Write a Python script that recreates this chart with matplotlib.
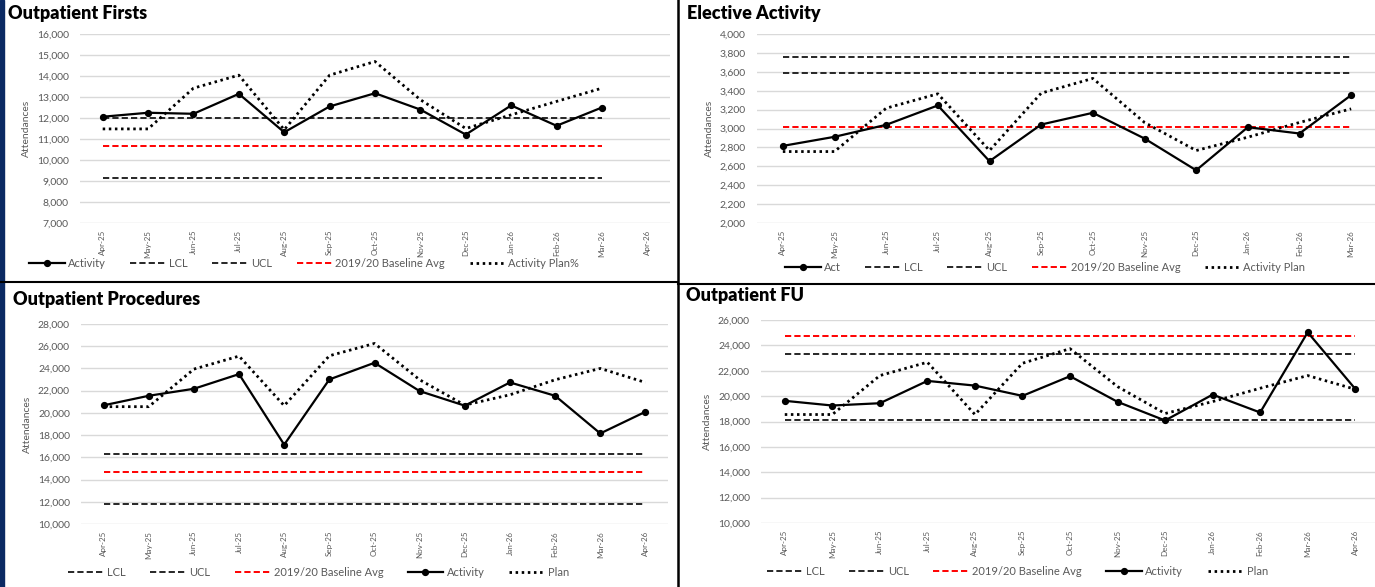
import numpy as np
import matplotlib
matplotlib.use("Agg")
import matplotlib.pyplot as plt
from matplotlib.lines import Line2D
from matplotlib.ticker import FuncFormatter

plt.rcParams['font.family'] = ['Lato', 'DejaVu Sans']

# data ################################
months13 = ["Apr-25", "May-25", "Jun-25", "Jul-25", "Aug-25", "Sep-25", "Oct-25",
            "Nov-25", "Dec-25", "Jan-26", "Feb-26", "Mar-26", "Apr-26"]
months12 = months13[:12]

# Outpatient Firsts (12 months of data, 13 category slots)
opf_activity = [12060, 12250, 12200, 13150, 11320, 12550, 13180, 12400, 11210, 12600, 11630, 12500]
opf_plan = [11480, 11480, 13420, 14040, 11440, 14040, 14690, 12870, 11500, 12150, 12790, 13420]
opf_lcl = 9150
opf_ucl = 11990
opf_base = 10690

# Elective Activity
ele_act = [2816, 2912, 3039, 3244, 2654, 3042, 3166, 2894, 2558, 3014, 2947, 3353]
ele_plan = [2756, 2756, 3215, 3367, 2767, 3374, 3530, 3064, 2767, 2908, 3064, 3208]
ele_lcl = 3583
ele_ucl = 3760
ele_base = 3018

# Outpatient Procedures
opp_activity = [20680, 21540, 22170, 23490, 17140, 23010, 24510, 21960, 20650, 22740, 21540, 18150, 20100]
opp_plan = [20560, 20560, 23940, 25110, 20650, 25140, 26250, 22980, 20700, 21630, 22980, 24000, 22740]
opp_lcl = 16300
opp_ucl = 11830
opp_base = 14650

# Outpatient FU
ofu_activity = [19630, 19260, 19440, 21200, 20830, 20020, 21570, 19550, 18080, 20120, 18710, 25030, 20570]
ofu_plan = [18550, 18550, 21620, 22670, 18550, 22590, 23740, 20750, 18630, 19570, 20620, 21620, 20540]
ofu_lcl = 18080
ofu_ucl = 23350
ofu_base = 24740

# figure ##############################
W, H = 1375, 587
fig = plt.figure(figsize=(W / 100, H / 100), dpi=100, facecolor='w')

GREY = '#595959'
DASH = (0, (3.2, 1.6))


def add_ax(x0, y0, x1, y1):
    return fig.add_axes([x0 / W, 1 - y1 / H, (x1 - x0) / W, (y1 - y0) / H])


def draw_panel(ax, cats, n_data, activity, plan, lcl, ucl, base, ylim, ystep,
               act_label, plan_label, order):
    x = np.arange(n_data)
    h = {}
    h['act'], = ax.plot(x, activity, color='black', lw=1.6, marker='o', ms=4.2,
                        label=act_label, zorder=5)
    h['lcl'], = ax.plot(x, [lcl] * n_data, color='#262626', lw=1.4, ls=DASH, label='LCL')
    h['ucl'], = ax.plot(x, [ucl] * n_data, color='#262626', lw=1.4, ls=DASH, label='UCL')
    h['base'], = ax.plot(x, [base] * n_data, color='#ff0000', lw=1.4, ls=DASH,
                         label='2019/20 Baseline Avg')
    h['plan'], = ax.plot(x, plan, color='black', lw=2.0, ls=(0, (0.9, 1.3)),
                         label=plan_label, zorder=4)
    ax.set_xlim(-0.5, len(cats) - 0.5)
    ax.set_ylim(*ylim)
    ax.set_yticks(np.arange(ylim[0], ylim[1] + 1, ystep))
    ax.yaxis.set_major_formatter(FuncFormatter(lambda v, p: f"{int(v):,}"))
    ax.set_xticks(np.arange(len(cats)))
    ax.set_xticklabels(cats, rotation=90, fontsize=5.8, color=GREY)
    ax.tick_params(axis='y', labelsize=7.5, labelcolor=GREY, length=0, pad=8)
    ax.tick_params(axis='x', length=0, pad=5)
    ax.grid(axis='y', color='#d9d9d9', lw=1.0)
    ax.set_axisbelow(True)
    for s in ax.spines.values():
        s.set_visible(False)
    ax.set_ylabel('Attendances', fontsize=7.5, color=GREY, labelpad=4)
    return [h[k] for k in order]


def add_legend(ax, handles, x, y):
    ax.legend(handles=handles, loc='center', bbox_to_anchor=(x, y), ncol=5,
              frameon=False, fontsize=8, labelcolor=GREY, handlelength=3.2,
              handletextpad=0.3, columnspacing=2.2)


def add_title(x, y, s):
    fig.text(x / W, 1 - y / H, s, fontsize=13, fontweight='heavy',
             va='center', ha='left')


# Outpatient Firsts
ax1 = add_ax(80, 34, 670, 223)
hs = draw_panel(ax1, months13, 12, opf_activity, opf_plan, opf_lcl, opf_ucl, opf_base,
                (7000, 16000), 1000, 'Activity', 'Activity Plan%',
                ['act', 'lcl', 'ucl', 'base', 'plan'])
add_legend(ax1, hs, 0.38, -0.215)
add_title(8, 13, 'Outpatient Firsts')

# Elective Activity
ax2 = add_ax(757, 34, 1377, 223)
hs = draw_panel(ax2, months12, 12, ele_act, ele_plan, ele_lcl, ele_ucl, ele_base,
                (2000, 4000), 200, 'Act', 'Activity Plan',
                ['act', 'lcl', 'ucl', 'base', 'plan'])
add_legend(ax2, hs, 0.465, -0.235)
add_title(687, 13, 'Elective Activity')

# Outpatient Procedures
ax3 = add_ax(81, 324, 668, 524)
hs = draw_panel(ax3, months13, 13, opp_activity, opp_plan, opp_lcl, opp_ucl, opp_base,
                (10000, 28000), 2000, 'Activity', 'Plan',
                ['lcl', 'ucl', 'base', 'act', 'plan'])
add_legend(ax3, hs, 0.405, -0.24)
add_title(13, 300, 'Outpatient Procedures')

# Outpatient FU
ax4 = add_ax(761, 320, 1379, 523)
hs = draw_panel(ax4, months13, 13, ofu_activity, ofu_plan, ofu_lcl, ofu_ucl, ofu_base,
                (10000, 26000), 2000, 'Activity', 'Plan',
                ['lcl', 'ucl', 'base', 'act', 'plan'])
add_legend(ax4, hs, 0.415, -0.24)
add_title(686, 296, 'Outpatient FU')

# panel borders
fig.add_artist(Line2D([678 / W, 678 / W], [0, 1], color='black', lw=1.8))
fig.add_artist(Line2D([0, 678 / W], [1 - 282 / H, 1 - 282 / H], color='black', lw=1.5))
fig.add_artist(Line2D([678 / W, 1], [1 - 284 / H, 1 - 284 / H], color='black', lw=1.5))
fig.add_artist(plt.Rectangle((0, 0), 4 / W, 1, color='#0b2a63', transform=fig.transFigure))

fig.savefig('out.png', dpi=100, facecolor='w')
